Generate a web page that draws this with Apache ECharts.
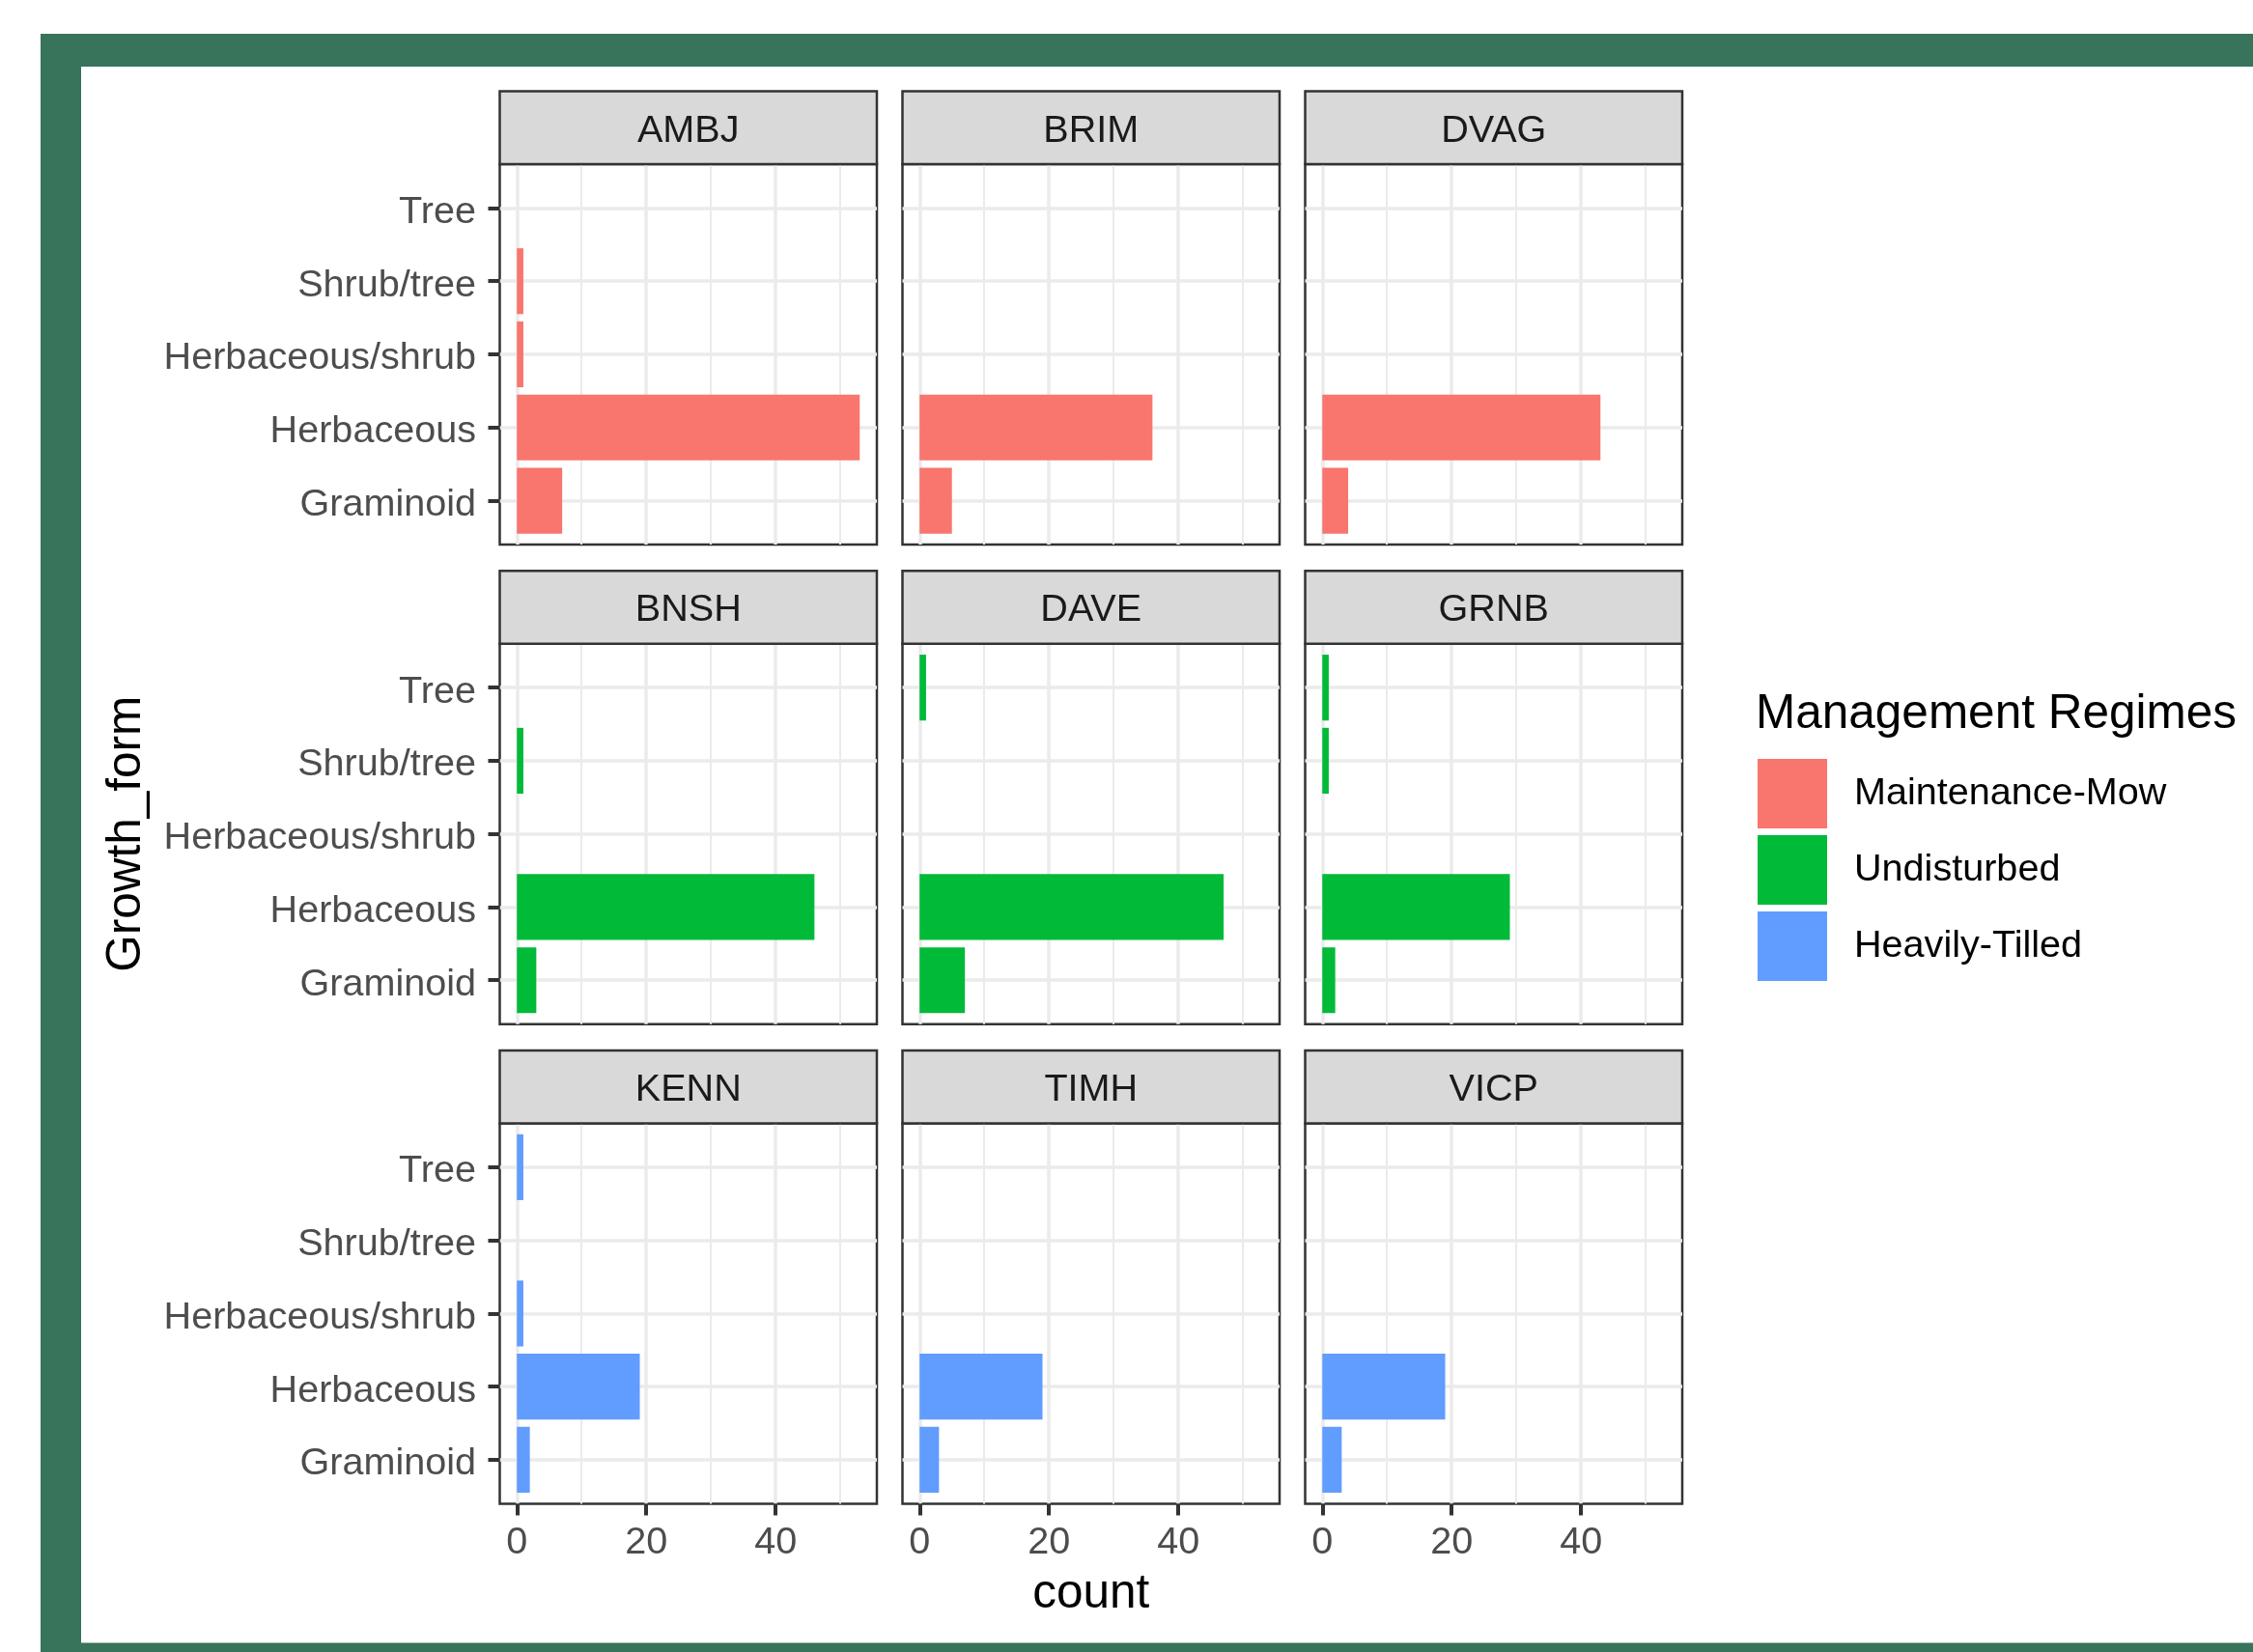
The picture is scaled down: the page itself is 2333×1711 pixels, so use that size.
<!DOCTYPE html>
<html>
<head>
<meta charset="utf-8">
<title>Growth form by site</title>
<script src="https://cdn.jsdelivr.net/npm/echarts@6.0.0/dist/echarts.min.js"></script>
<style>
  html, body { margin: 0; padding: 0; background: #ffffff; }
  #main { width: 2333px; height: 1711px; }
</style>
</head>
<body>
<div id="main"></div>
<script type="text/javascript">
// data (bottom-to-top order, like ggplot)
var growthForms = ['Graminoid', 'Herbaceous', 'Herbaceous/shrub', 'Shrub/tree', 'Tree'];
var regimes = ['Maintenance-Mow', 'Undisturbed', 'Heavily-Tilled'];
var regimeColors = ['#F8766D', '#00BA38', '#619CFF'];
var sites = ['AMBJ', 'BRIM', 'DVAG', 'BNSH', 'DAVE', 'GRNB', 'KENN', 'TIMH', 'VICP'];
var siteRegime = [0, 0, 0, 1, 1, 1, 2, 2, 2];

var ambj = [7, 53, 1, 1, 0];
var brim = [5, 36, 0, 0, 0];
var dvag = [4, 43, 0, 0, 0];
var bnsh = [3, 46, 0, 1, 0];
var dave = [7, 47, 0, 0, 1];
var grnb = [2, 29, 0, 1, 1];
var kenn = [2, 19, 1, 0, 1];
var timh = [3, 19, 0, 0, 0];
var vicp = [3, 19, 0, 0, 0];
var siteCounts = [ambj, brim, dvag, bnsh, dave, grnb, kenn, timh, vicp];

var countTicks = [0, 20, 40];
var countMinor = [10, 30, 50];
var countMin = -2.65, countMax = 55.65;

// layout
var FONT = 'Liberation Sans';
var panelLeft0 = 517.5, colStep = 417, panelW = 390.5;
var panelTop0 = 170, rowStep = 496.7, panelH = 394;
var stripH = 75.5;
var inset = panelH * 0.6 / 5.2;
var barW = panelH * 0.9 / 5.2;
var smallFont = 39.6, bigFont = 49.5;

var myChart = echarts.init(document.getElementById('main'));

var grids = [], xAxes = [], yAxes = [], series = [], graphics = [];

// green frame
graphics.push({ type: 'rect', shape: { x: 42, y: 35, width: 2291, height: 34 }, style: { fill: '#38735B' } });
graphics.push({ type: 'rect', shape: { x: 42, y: 35, width: 42, height: 1676 }, style: { fill: '#38735B' } });
graphics.push({ type: 'rect', shape: { x: 42, y: 1701.5, width: 2291, height: 10 }, style: { fill: '#38735B' } });

sites.forEach(function (site, i) {
  var row = Math.floor(i / 3), col = i % 3;
  var left = panelLeft0 + col * colStep;
  var top = panelTop0 + row * rowStep;
  var isBottom = row === 2, isLeft = col === 0;

  // grid A: border + vertical grid lines + x axis
  grids.push({ left: left, top: top, width: panelW, height: panelH, show: true,
    backgroundColor: '#ffffff', borderColor: '#333333', borderWidth: 2.5, outerBoundsMode: 'none' });
  // grid B: bars + horizontal grid lines + y axis
  grids.push({ left: left, top: top + inset, width: panelW, height: panelH - 2 * inset,
    outerBoundsMode: 'none' });

  xAxes.push({
    type: 'value', gridIndex: 2 * i, min: countMin, max: countMax,
    axisLine: { show: false, onZero: false },
    axisTick: { show: isBottom, customValues: countTicks, length: 12, lineStyle: { color: '#333333', width: 4 } },
    axisLabel: { show: isBottom, customValues: countTicks, margin: 21, fontFamily: FONT, fontSize: smallFont, color: '#4D4D4D' },
    splitLine: { show: true, lineStyle: { color: '#EBEBEB', width: 3.5 } },
    name: i === 7 ? 'count' : '', nameLocation: 'middle', nameGap: 69,
    nameTextStyle: { fontFamily: FONT, fontSize: bigFont, color: '#000000' }
  });
  xAxes.push({
    type: 'value', gridIndex: 2 * i, min: countMin, max: countMax,
    axisLine: { show: false, onZero: false }, axisTick: { show: false, customValues: countMinor },
    axisLabel: { show: false, customValues: countMinor },
    splitLine: { show: true, lineStyle: { color: '#EBEBEB', width: 2 } }
  });
  xAxes.push({
    type: 'value', gridIndex: 2 * i + 1, min: countMin, max: countMax, show: false,
    axisLine: { onZero: false }, splitLine: { show: false }
  });

  yAxes.push({ type: 'value', gridIndex: 2 * i, min: 0, max: 1, show: false,
    axisLine: { onZero: false }, splitLine: { show: false } });
  yAxes.push({
    type: 'category', gridIndex: 2 * i + 1, data: growthForms, boundaryGap: false,
    axisLine: { show: false, onZero: false },
    axisTick: { show: isLeft, interval: 0, length: 12, lineStyle: { color: '#333333', width: 4 } },
    axisLabel: { show: isLeft, interval: 0, margin: 24.5, verticalAlign: 'top', lineHeight: 9,
      fontFamily: FONT, fontSize: smallFont, color: '#4D4D4D' },
    splitLine: { show: true, interval: 0, lineStyle: { color: '#EBEBEB', width: 3.5 } },
    name: i === 3 ? 'Growth_form' : '', nameLocation: 'middle', nameRotate: 90, nameGap: 361,
    nameTextStyle: { fontFamily: FONT, fontSize: bigFont, color: '#000000' }
  });

  series.push({
    type: 'bar', name: regimes[siteRegime[i]],
    xAxisIndex: 3 * i + 2, yAxisIndex: 2 * i + 1,
    data: siteCounts[i], barWidth: barW,
    itemStyle: { color: regimeColors[siteRegime[i]] },
    silent: true
  });

  // facet strip
  graphics.push({ type: 'rect', z: 10,
    shape: { x: left, y: top - stripH, width: panelW, height: stripH },
    style: { fill: '#D9D9D9', stroke: '#333333', lineWidth: 2.5 } });
  graphics.push({ type: 'text', z: 11,
    style: { text: site, x: left + panelW / 2, y: top - stripH / 2 + 3.5, align: 'center', verticalAlign: 'middle',
      font: smallFont + 'px "' + FONT + '"', fill: '#1A1A1A' } });
});

var option = {
  animation: false,
  backgroundColor: '#ffffff',
  title: {
    text: 'Management Regimes', left: 1818, top: 715, padding: 0,
    textStyle: { fontFamily: FONT, fontSize: bigFont, fontWeight: 'normal', color: '#000000' }
  },
  legend: {
    data: regimes, orient: 'vertical', left: 1820, top: 786, padding: 0,
    itemWidth: 72, itemHeight: 72, itemGap: 7, icon: 'rect', selectedMode: false,
    textStyle: { fontFamily: FONT, fontSize: smallFont, color: '#000000', padding: [0, 0, 0, 23] }
  },
  grid: grids,
  xAxis: xAxes,
  yAxis: yAxes,
  series: series,
  graphic: graphics
};

myChart.setOption(option);
</script>
</body>
</html>
